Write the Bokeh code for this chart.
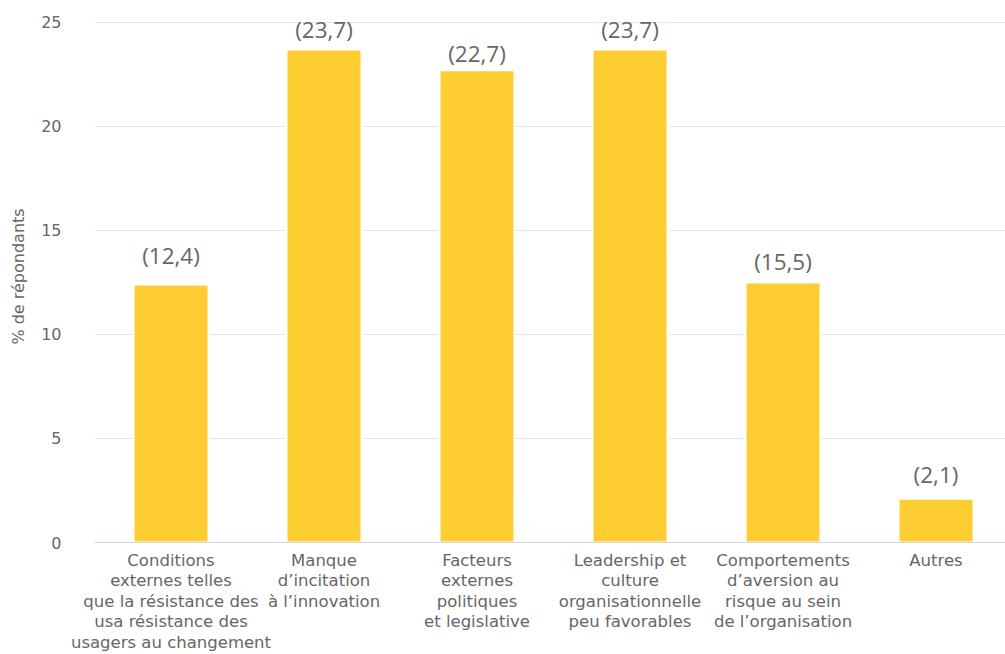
from bokeh.plotting import figure
from bokeh.models import ColumnDataSource, FixedTicker, Range1d
from bokeh.core.properties import value
from bokeh.embed import file_html
from bokeh.resources import INLINE

categories = [
    "Conditions\nexternes telles\nque la résistance des\nusa résistance des\nusagers au changement",
    "Manque\nd\u2019incitation\nà l\u2019innovation",
    "Facteurs\nexternes\npolitiques\net legislative",
    "Leadership et\nculture\norganisationnelle\npeu favorables",
    "Comportements\nd\u2019aversion au\nrisque au sein\nde l\u2019organisation",
    "Autres",
]
values = [12.4, 23.7, 22.7, 23.7, 12.5, 2.1]
labels = ["(12,4)", "(23,7)", "(22,7)", "(23,7)", "(15,5)", "(2,1)"]
y_ticks = [0, 5, 10, 15, 20, 25]

# pixel offsets of each value label above its bar (layout only)
label_offsets = [-29, -20, -17, -20, -21, -24]

xs = list(range(len(categories)))
src = ColumnDataSource(dict(x=xs, top=values, lab=labels, yoff=label_offsets))

p = figure(width=1005, height=654, output_backend="svg", toolbar_location=None,
           x_range=Range1d(-0.5, 5.454), y_range=Range1d(0, 25.576),
           min_border_left=94, min_border_right=0, min_border_top=10, min_border_bottom=111)
p.outline_line_color = None
p.background_fill_color = "white"
p.border_fill_color = "white"

p.vbar(x="x", top="top", width=0.49, source=src, fill_color="#fecd32",
       line_color="white", line_width=2)
p.text(x="x", y="top", text="lab", source=src, text_align="center", text_baseline="middle",
       y_offset="yoff", text_font=value("Open Sans"), text_font_size="22.5px",
       text_color="#666666")

p.xgrid.grid_line_color = None
p.ygrid.grid_line_color = "#e6e6e6"
p.ygrid.grid_line_width = 1

p.yaxis.ticker = FixedTicker(ticks=y_ticks)
p.yaxis.axis_line_color = None
p.yaxis.major_tick_line_color = None
p.yaxis.minor_tick_line_color = None
p.yaxis.major_label_standoff = 27
p.yaxis.major_label_text_font = "DejaVu Sans"
p.yaxis.major_label_text_font_size = "16px"
p.yaxis.major_label_text_color = "#666666"
p.yaxis.axis_label = "% de répondants"
p.yaxis.axis_label_text_font = "DejaVu Sans"
p.yaxis.axis_label_text_font_size = "16px"
p.yaxis.axis_label_text_font_style = "normal"
p.yaxis.axis_label_text_color = "#666666"
p.yaxis.axis_label_standoff = 10

p.xaxis.ticker = FixedTicker(ticks=xs)
p.xaxis.major_label_overrides = {i: c for i, c in zip(xs, categories)}
p.xaxis.axis_line_color = "#ccd6eb"
p.xaxis.axis_line_width = 1
p.xaxis.major_tick_line_color = None
p.xaxis.minor_tick_line_color = None
p.xaxis.major_label_standoff = 2
p.xaxis.major_label_text_font = "DejaVu Sans"
p.xaxis.major_label_text_font_size = "16.5px"
p.xaxis.major_label_text_color = "#666666"
p.xaxis.major_label_text_line_height = 1.08

open("out.html", "w").write(file_html(p, INLINE))
